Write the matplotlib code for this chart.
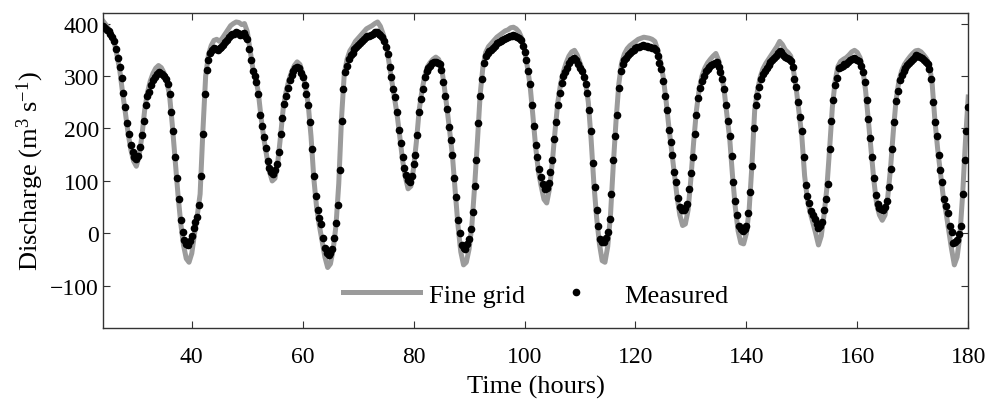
import numpy as np
import matplotlib
matplotlib.use("Agg")
import matplotlib.pyplot as plt

# measured discharge, every 20 minutes from t = 24 h to t = 180 h
measured = [
    395, 392, 388, 385, 380, 374, 367, 352, 335, 318, 297, 268,   # 24-27
    240, 210, 190, 168, 155, 146, 142, 148, 165, 188, 215, 245,   # 28-31
    262, 270, 283, 292, 299, 304, 307, 306, 303, 300, 294, 285,   # 32-35
    265, 232, 195, 145, 105, 65, 25, 3, -12, -20, -23, -15,       # 36-39
    -5, 10, 22, 32, 55, 110, 190, 265, 312, 330, 343, 350,        # 40-43
    353, 352, 349, 353, 356, 360, 364, 368, 374, 378, 380, 381,   # 44-47
    383, 382, 378, 380, 382, 377, 370, 352, 330, 310, 300, 288,   # 48-51
    265, 225, 205, 184, 163, 138, 125, 117, 114, 120, 133, 155,   # 52-55
    190, 220, 246, 262, 277, 292, 302, 310, 315, 317, 315, 305,   # 56-59
    298, 283, 265, 245, 212, 160, 110, 72, 45, 30, 18, -8,        # 60-63
    -28, -37, -42, -38, -30, -8, 20, 55, 120, 215, 275, 308,      # 64-67
    320, 333, 340, 344, 352, 356, 360, 363, 366, 370, 374, 376,   # 68-71
    377, 378, 380, 383, 384, 381, 378, 374, 366, 356, 342, 318,   # 72-75
    298, 275, 260, 232, 197, 172, 146, 124, 112, 102, 98, 110,    # 76-79
    132, 150, 188, 232, 256, 276, 298, 310, 316, 320, 324, 326,   # 80-83
    327, 325, 322, 312, 288, 262, 238, 203, 178, 150, 105, 70,    # 84-87
    25, 0, -22, -28, -29, -20, -10, 8, 40, 90, 140, 210,          # 88-91
    262, 295, 325, 338, 344, 348, 350, 354, 358, 362, 364, 367,   # 92-95
    369, 371, 373, 374, 376, 377, 378, 377, 375, 372, 368, 358,   # 96-99
    345, 330, 310, 285, 245, 205, 168, 145, 122, 108, 94, 84,     # 100-103
    86, 96, 118, 140, 180, 212, 245, 268, 286, 300, 308, 316,     # 104-107
    325, 330, 333, 334, 330, 322, 316, 310, 298, 285, 268, 235,   # 108-111
    195, 135, 88, 45, 15, -10, -16, -17, -8, 2, 28, 75,           # 112-115
    140, 185, 225, 278, 310, 323, 330, 335, 340, 344, 348, 350,   # 116-119
    353, 355, 356, 357, 359, 358, 357, 356, 355, 354, 353, 350,   # 120-123
    338, 325, 314, 290, 262, 235, 198, 175, 150, 118, 98, 68,     # 124-127
    50, 45, 44, 48, 56, 85, 115, 145, 190, 225, 258, 278,         # 128-131
    290, 300, 309, 314, 318, 321, 323, 325, 327, 318, 307, 295,   # 132-135
    275, 245, 215, 185, 148, 98, 62, 35, 15, 8, 5, 8,             # 136-139
    14, 38, 78, 128, 200, 245, 262, 280, 294, 304, 310, 316,      # 140-143
    321, 326, 330, 334, 338, 344, 348, 346, 340, 337, 335, 332,   # 144-147
    328, 318, 295, 280, 250, 222, 195, 145, 92, 72, 58, 42,       # 148-151
    35, 27, 18, 10, 15, 22, 45, 66, 95, 160, 215, 255,            # 152-155
    282, 297, 315, 318, 320, 322, 323, 326, 330, 332, 334, 333,   # 156-159
    331, 328, 320, 308, 288, 255, 218, 182, 145, 105, 74, 57,     # 160-163
    49, 46, 44, 50, 62, 88, 122, 160, 212, 252, 272, 292,         # 164-167
    302, 309, 315, 321, 325, 329, 332, 336, 340, 338, 336, 334,   # 168-171
    330, 327, 322, 314, 295, 250, 212, 186, 150, 120, 98, 66,     # 172-175
    52, 38, 15, 2, -18, -16, -12, -2, 15, 75, 140, 195,           # 176-179
    241,                                                          # 180
]

# fine grid model output, every 30 minutes from t = 24 h to t = 180 h
fine_grid = [
    405, 398, 390, 378, 365, 340, 312, 270,      # 24-27
    232, 192, 160, 138, 128, 148, 185, 235,      # 28-31
    268, 290, 305, 315, 320, 316, 306, 290,      # 32-35
    262, 205, 140, 75, 20, -22, -48, -55,        # 36-39
    -38, 0, 35, 75, 195, 300, 340, 358,          # 40-43
    368, 370, 366, 372, 380, 388, 396, 400,      # 44-47
    403, 402, 398, 400, 385, 350, 315, 298,      # 48-51
    268, 220, 180, 148, 118, 100, 105, 135,      # 52-55
    185, 240, 270, 292, 308, 320, 327, 322,      # 56-59
    305, 280, 245, 185, 105, 50, 15, -15,        # 60-63
    -45, -65, -58, -30, 15, 95, 220, 305,        # 64-67
    332, 348, 356, 366, 372, 378, 384, 390,      # 68-71
    393, 396, 400, 403, 395, 380, 362, 330,      # 72-75
    295, 262, 228, 185, 140, 108, 85, 90,        # 76-79
    125, 175, 235, 272, 300, 318, 326, 332,      # 80-83
    336, 332, 318, 282, 240, 195, 148, 80,       # 84-87
    15, -35, -60, -55, -30, 15, 90, 175,         # 88-91
    265, 318, 345, 356, 362, 368, 374, 378,      # 92-95
    382, 386, 388, 392, 393, 390, 384, 372,      # 96-99
    350, 318, 282, 225, 165, 118, 90, 65,        # 100-103
    58, 85, 135, 195, 250, 285, 308, 325,        # 104-107
    338, 346, 349, 340, 325, 310, 288, 250,      # 108-111
    180, 95, 30, -20, -52, -55, -25, 35,         # 112-115
    130, 215, 285, 325, 342, 352, 358, 362,      # 116-119
    366, 370, 372, 374, 373, 372, 370, 366,      # 120-123
    350, 328, 298, 255, 205, 160, 115, 70,       # 124-127
    35, 15, 18, 45, 105, 175, 235, 275,          # 128-131
    300, 315, 325, 332, 338, 343, 330, 305,      # 132-135
    272, 225, 180, 110, 50, 5, -18, -20,         # 136-139
    0, 45, 130, 235, 272, 298, 314, 324,         # 140-143
    332, 340, 348, 356, 366, 360, 350, 345,      # 144-147
    338, 310, 275, 230, 185, 110, 65, 40,        # 148-151
    20, 0, -22, -5, 35, 85, 160, 240,            # 152-155
    290, 318, 328, 332, 335, 340, 346, 349,      # 156-159
    345, 335, 312, 272, 215, 160, 100, 55,       # 160-163
    35, 25, 35, 70, 125, 195, 255, 290,          # 164-167
    310, 322, 330, 337, 343, 348, 349, 346,      # 168-171
    340, 333, 322, 285, 215, 160, 115, 70,       # 172-175
    40, 5, -30, -60, -45, -5, 75, 175,           # 176-179
    260,                                         # 180
]

t_start, t_end = 24, 180
t_meas = np.linspace(t_start, t_end, len(measured))
t_fine = np.linspace(t_start, t_end, len(fine_grid))

plt.rcParams['font.family'] = ['Liberation Serif', 'DejaVu Serif']
plt.rcParams['mathtext.fontset'] = 'custom'
plt.rcParams['mathtext.rm'] = 'Liberation Serif'
plt.rcParams['mathtext.it'] = 'Liberation Serif:italic'

fig = plt.figure(figsize=(9.91, 4.02), dpi=100)
ax = fig.add_axes([0.104, 0.182, 0.873, 0.783])

ax.plot(t_fine, fine_grid, color='#9b9b9b', lw=3.6, label='Fine grid', zorder=2)
ax.plot(t_meas, measured, 'o', color='black', ms=4.5, label='Measured', zorder=3)

ax.set_xlim(t_start, t_end)
ax.set_ylim(-180, 420)
ax.set_xticks([40, 60, 80, 100, 120, 140, 160, 180])
ax.set_yticks([-100, 0, 100, 200, 300, 400])
ax.tick_params(direction='in', length=5, width=0.8, top=True, right=True,
               labelsize=17, colors='#333333', labelcolor='black')
ax.tick_params(axis='x', pad=13)
ax.tick_params(axis='y', pad=3)
for s in ax.spines.values():
    s.set_color('#333333')
    s.set_linewidth(1.0)

ax.set_xlabel('Time (hours)', fontsize=19, labelpad=6)
ax.set_ylabel(r'Discharge (m$^{3}$ s$^{-1}$)', fontsize=19, labelpad=3)

ax.legend(loc='center', bbox_to_anchor=(0.5, 0.105), ncol=2, frameon=False,
          fontsize=19, handlelength=2.9, handletextpad=0.35, columnspacing=0.5,
          numpoints=1)

fig.savefig('out.png', dpi=100)
